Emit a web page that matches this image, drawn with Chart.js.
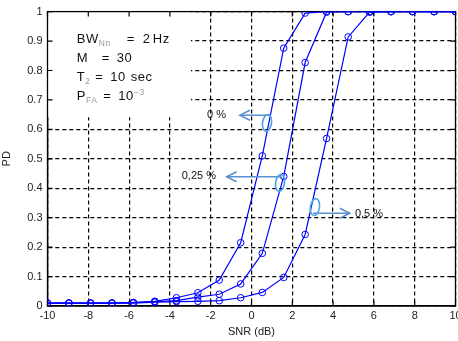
<!DOCTYPE html>
<html>
<head>
<meta charset="utf-8">
<script src="https://cdn.jsdelivr.net/npm/chart.js@4.4.1/dist/chart.umd.min.js"></script>
<style>
html,body{margin:0;padding:0;background:#fff;overflow:hidden;}
#wrap{position:relative;width:470px;height:341px;}
</style>
</head>
<body>
<div id="wrap"><canvas id="c"></canvas></div>
<script>
// ---- data ----
const snrDb = [-10,-8.95,-7.89,-6.84,-5.79,-4.74,-3.68,-2.63,-1.58,-0.53,0.53,1.58,2.63,3.68,4.74,5.79,6.84,7.89,8.95,10];
const pd0   = [0.01,0.01,0.01,0.01,0.012,0.016,0.028,0.045,0.088,0.215,0.51,0.876,0.995,1,1,1,1,1,1,1];
const pd025 = [0.01,0.01,0.01,0.01,0.011,0.015,0.018,0.03,0.04,0.075,0.179,0.44,0.827,0.998,1,1,1,1,1,1];
const pd05  = [0.01,0.01,0.01,0.01,0.01,0.013,0.015,0.016,0.018,0.028,0.046,0.097,0.243,0.569,0.914,0.998,1,1,1,1];
const xTickLabels = ['-10','-8','-6','-4','-2','0','2','4','6','8','10'];
const yTickLabels = ['0','0.1','0.2','0.3','0.4','0.5','0.6','0.7','0.8','0.9','1'];
const xTitle = 'SNR (dB)';
const yTitle = 'PD';
// annotation labels: [text, x, y]
const curveLabels = [['0 %',-2.18,0.648],['0,25 %',-3.42,0.442],['0,5 %',5.07,0.312]];
// arrows: [xFrom, xTo, y]
const arrows = [[0.91,-0.57,0.648],[1.48,-1.22,0.439],[3.01,4.82,0.315]];
// ellipses: [x, y]
const ellipses = [[0.76,0.622],[1.40,0.418],[3.11,0.336]];
// parameter box lines: pieces [text, kind, offset]
const paramLines = [
  [['BW','n',0],['Nn','sub'],['=','n',50],['2','n',66],['Hz','n',76]],
  [['M','n',0],['=','n',25],['30','n',40]],
  [['T','n',0],['2','sub'],['=','n',18.5],['10','n',33.5],['sec','n',54]],
  [['P','n',0],['FA','sub'],['=','n',26.6],['10','n',41.6],['\u22123','sup']]
];
const paramBox = [-10, -2.97, 1, 0.641];   // x0, x1, y-top, y-bottom (data units)
const paramAnchor = [-8.57, 0.906];

const FONT = '"Liberation Sans", Arial, sans-serif';
const mkSet = (vals) => ({
  data: snrDb.map((x,i)=>({x:x,y:vals[i]})),
  borderColor:'#0000ff', borderWidth:1.2, backgroundColor:'rgba(0,0,0,0)',
  pointRadius:3.3, pointBorderWidth:1, pointBorderColor:'#0000ff', pointBackgroundColor:'rgba(0,0,0,0)',
  pointStyle:'circle', tension:0
});

const annot = {
  id:'annot',
  beforeDatasetsDraw(chart){
    const ctx = chart.ctx, xs = chart.scales.x, ys = chart.scales.y, a = chart.chartArea;
    ctx.save();
    const bx0 = xs.getPixelForValue(paramBox[0]), bx1 = xs.getPixelForValue(paramBox[1]);
    const by0 = ys.getPixelForValue(paramBox[2]), by1 = ys.getPixelForValue(paramBox[3]);
    ctx.fillStyle = '#fff';
    ctx.fillRect(bx0, by0, bx1 - bx0, by1 - by0);
    ctx.strokeStyle = '#000'; ctx.lineWidth = 1.2; ctx.setLineDash([]);
    ctx.beginPath();
    xTickLabels.forEach(t => {
      const px = xs.getPixelForValue(Number(t));
      ctx.moveTo(px, a.top); ctx.lineTo(px, a.top + 5);
      ctx.moveTo(px, a.bottom); ctx.lineTo(px, a.bottom - 5);
    });
    yTickLabels.forEach(t => {
      const py = ys.getPixelForValue(Number(t));
      ctx.moveTo(a.left, py); ctx.lineTo(a.left + 5, py);
      ctx.moveTo(a.right, py); ctx.lineTo(a.right - 5, py);
    });
    ctx.stroke();
    ctx.lineWidth = 1.3;
    ctx.strokeRect(a.left, a.top, a.right - a.left, a.bottom - a.top);
    ctx.restore();
  },
  afterDraw(chart){
    const ctx = chart.ctx, xs = chart.scales.x, ys = chart.scales.y;
    ctx.save();
    ctx.textBaseline = 'middle'; ctx.textAlign = 'left';
    const x0 = xs.getPixelForValue(paramAnchor[0]);
    const y0 = ys.getPixelForValue(paramAnchor[1]);
    paramLines.forEach((line, li) => {
      const y = y0 + li * 19;
      let x = x0;
      line.forEach(p => {
        if (p[2] !== undefined) x = x0 + p[2];
        if (p[1] === 'n') {
          ctx.font = '13px ' + FONT; ctx.letterSpacing = '0.6px'; ctx.fillStyle = '#111';
          ctx.fillText(p[0], x, y); x += ctx.measureText(p[0]).width;
        } else if (p[1] === 'sub') {
          ctx.font = '8.5px ' + FONT; ctx.letterSpacing = '0.5px'; ctx.fillStyle = '#9a9a9a';
          ctx.fillText(p[0], x, y + 4); x += ctx.measureText(p[0]).width;
        } else {
          ctx.font = '8.5px ' + FONT; ctx.letterSpacing = '0.5px'; ctx.fillStyle = '#9a9a9a';
          ctx.fillText(p[0], x, y - 4); x += ctx.measureText(p[0]).width;
        }
      });
    });
    ctx.letterSpacing = '0px';
    ctx.font = '11px ' + FONT; ctx.fillStyle = '#111';
    curveLabels.forEach(l => ctx.fillText(l[0], xs.getPixelForValue(l[1]), ys.getPixelForValue(l[2])));
    ctx.strokeStyle = '#5b8fcf'; ctx.lineWidth = 1.5;
    arrows.forEach(ar => {
      const xa = xs.getPixelForValue(ar[0]), xb = xs.getPixelForValue(ar[1]), y = ys.getPixelForValue(ar[2]);
      const d = Math.sign(xb - xa);
      ctx.beginPath(); ctx.moveTo(xa, y); ctx.lineTo(xb, y); ctx.stroke();
      ctx.beginPath(); ctx.moveTo(xb - d*10, y - 5); ctx.lineTo(xb, y); ctx.lineTo(xb - d*10, y + 5); ctx.stroke();
    });
    ctx.strokeStyle = '#4aa6dc'; ctx.lineWidth = 1.6;
    ellipses.forEach(e => {
      ctx.beginPath();
      ctx.ellipse(xs.getPixelForValue(e[0]), ys.getPixelForValue(e[1]), 4.5, 8.5, 0.15, 0, Math.PI*2);
      ctx.stroke();
    });
    ctx.restore();
  }
};

new Chart(document.getElementById('c'), {
  type:'line',
  data:{ datasets:[mkSet(pd0), mkSet(pd025), mkSet(pd05)] },
  options:{
    responsive:true, maintainAspectRatio:false, animation:false,
    layout:{ padding:{ top:11, right:14.5, bottom:0, left:0 } },
    plugins:{ legend:{display:false}, tooltip:{enabled:false} },
    scales:{
      x:{ type:'linear', min:-10, max:10,
        afterBuildTicks(s){ s.ticks = xTickLabels.map(v=>({value:Number(v)})); },
        afterFit(s){ s.height = 35; },
        ticks:{ callback:(v,i)=>xTickLabels[i], color:'#222', padding:3, maxRotation:0, autoSkip:false,
          font:{ family:FONT, size:11 } },
        grid:{ color:'#000', lineWidth:1.2, drawTicks:false },
        border:{ display:true, color:'#000', width:1.3, dash:[4,3] },
        title:{ display:true, text:xTitle, color:'#222', padding:{top:0,bottom:2},
          font:{ family:FONT, size:11 } }
      },
      y:{ type:'linear', min:0, max:1,
        afterBuildTicks(s){ s.ticks = yTickLabels.map(v=>({value:Number(v)})); },
        afterFit(s){ s.width = 47.5; },
        ticks:{ callback:(v,i)=>yTickLabels[i], color:'#222', padding:5, autoSkip:false,
          font:{ family:FONT, size:11 } },
        grid:{ color:'#000', lineWidth:1.2, drawTicks:false },
        border:{ display:true, color:'#000', width:1.3, dash:[4,3] },
        title:{ display:true, text:yTitle, color:'#222', padding:{top:0,bottom:0},
          font:{ family:FONT, size:11 } }
      }
    }
  },
  plugins:[annot]
});
</script>
</body>
</html>
